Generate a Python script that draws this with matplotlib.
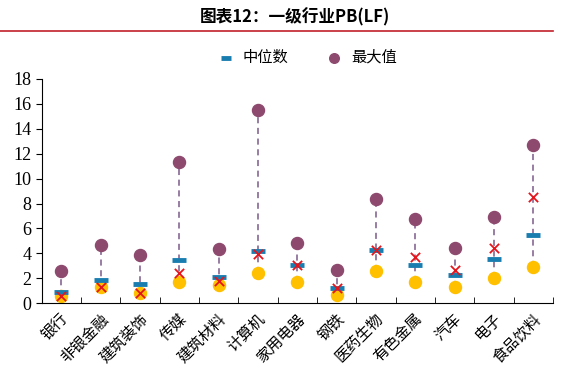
import matplotlib.pyplot as plt
from matplotlib import font_manager as fm
import numpy as np

plt.rcParams['font.family'] = ['Liberation Serif', 'Noto Sans CJK SC']

industries = ['银行', '非银金融', '建筑装饰', '传媒', '建筑材料', '计算机', '家用电器',
              '钢铁', '医药生物', '有色金属', '汽车', '电子', '食品饮料']
max_vals = [2.6, 4.7, 3.85, 11.35, 4.35, 15.5, 4.8, 2.65, 8.35, 6.75, 4.4, 6.9, 12.65]
median_vals = [0.9, 1.85, 1.55, 3.45, 2.15, 4.2, 3.05, 1.2, 4.25, 3.05, 2.25, 3.55, 5.5]
min_vals = [0.55, 1.35, 0.8, 1.7, 1.45, 2.4, 1.75, 0.65, 2.6, 1.7, 1.3, 2.05, 2.95]
current_vals = [0.55, 1.35, 0.8, 2.4, 1.8, 3.95, 3.05, 1.2, 4.25, 3.75, 2.7, 4.45, 8.55]
yticks = np.arange(0, 19, 2)

# serif digits for the y axis, loaded straight from the font file
serif_path = fm.findfont(fm.FontProperties(family='Liberation Serif'))
serif = fm.FontProperties(fname=serif_path, size=13)

x = np.arange(len(industries)) + 0.5

fig = plt.figure(figsize=(5.73, 3.84), dpi=100)
ax = fig.add_axes([0.073, 0.21, 0.892, 0.585])

ax.vlines(x, min_vals, max_vals, colors='#7d5a8c', linestyles=(0, (4, 3)), linewidth=1.1, zorder=1)
ax.scatter(x, min_vals, s=75, color='#FFC000', zorder=2)
ax.scatter(x, max_vals, s=75, color='#8E4A6E', zorder=2, label='最大值')
ax.scatter(x, median_vals, s=90, marker='_', linewidths=3.5, color='#1A7DB0', zorder=3, label='中位数')
ax.scatter(x, current_vals, s=45, marker='x', linewidths=1.3, color='#E3161E', zorder=4)

ax.set_xlim(0, len(industries))
ax.set_ylim(0, 18)
ax.set_yticks(yticks)
ax.set_yticklabels([str(v) for v in yticks], fontproperties=serif)
ax.tick_params(axis='y', direction='out', length=4)
ax.set_xticks(x)
ax.set_xticklabels(industries, rotation=45, ha='right', rotation_mode='anchor', fontsize=11)
ax.tick_params(axis='x', length=0, pad=6)
ax.set_xticks(np.arange(0, len(industries) + 1), minor=True)
ax.tick_params(axis='x', which='minor', direction='in', length=4)
ax.spines['top'].set_visible(False)
ax.spines['right'].set_visible(False)

h, l = ax.get_legend_handles_labels()
fig.legend([h[1], h[0]], [l[1], l[0]], loc='center', bbox_to_anchor=(0.53, 0.85), ncol=2,
           frameon=False, fontsize=11, handletextpad=0.1, columnspacing=2.0, markerscale=0.8)

fig.text(0.515, 0.955, '图表12：一级行业PB(LF)', ha='center', va='center', fontsize=12,
         fontweight='bold', fontfamily=['Noto Sans CJK SC'])
fig.add_artist(plt.Line2D([0, 0.965], [0.918, 0.918], color='#C0202A', linewidth=1.2))

fig.savefig('out.png', dpi=100)
